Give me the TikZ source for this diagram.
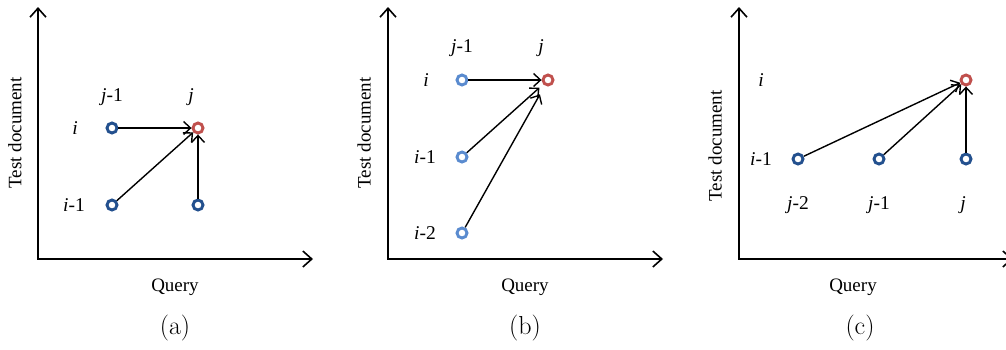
\documentclass[tikz,border=0pt]{standalone}
\usepackage{fontspec}
\newfontfamily\tnr{Liberation Serif}
\usetikzlibrary{arrows.meta}
\definecolor{dkblue}{HTML}{23508E}
\definecolor{ltblue}{HTML}{5A8BCF}
\definecolor{rdc}{HTML}{C0504D}
\begin{document}
\begin{tikzpicture}[x=1pt,y=-1pt,
  dot/.style={circle, draw=#1, line width=2.9pt, minimum size=10pt, inner sep=0pt, fill=white},
  axis/.style={line width=1.8pt, line join=miter, {Straight Barb[length=9pt,width=16pt,line width=1.6pt]}-{Straight Barb[length=9pt,width=16pt,line width=1.6pt]}},
  conn/.style={line width=1.4pt, -{Straight Barb[length=7pt,width=13pt,line width=1.4pt]}},
  lab/.style={font=\tnr\fontsize{19.5}{22}\selectfont, inner sep=0pt},
  axlab/.style={font=\tnr\fontsize{19}{22}\selectfont, inner sep=0pt},
  captext/.style={font=\fontsize{26}{30}\selectfont, inner sep=0pt}]
\useasboundingbox (0,0) rectangle (1006,349);
% ---------- (a)
\coordinate (ay) at (38,7);
\coordinate (ao) at (38,259);
\coordinate (ax) at (313,259);
\draw[axis] (ay) -- (ao) -- (ax);
\node[axlab] (aq) at (175,287) {Query};
\node[axlab, rotate=90] (at) at (15,133) {Test document};
\node[captext] (acap) at (175,328) {(a)};
\node[dot=dkblue] (a11) at (112,128) {};
\node[dot=rdc] (a12) at (198,128) {};
\node[dot=dkblue] (a21) at (112,205) {};
\node[dot=dkblue] (a22) at (198,205) {};
\node[lab] (alj1) at (112,97) {\textit{j}-1};
\node[lab] (alj) at (191,97) {\textit{j}};
\node[lab] (ali) at (75,128) {\textit{i}};
\node[lab] (ali1) at (74,205) {\textit{i}-1};
\draw[conn] (a11) -- (a12);
\draw[conn] (a21) -- (a12);
\draw[conn] (a22) -- (a12);
% ---------- (b)
\coordinate (by) at (388,7);
\coordinate (bo) at (388,259);
\coordinate (bx) at (663,259);
\draw[axis] (by) -- (bo) -- (bx);
\node[axlab] (bq) at (525,287) {Query};
\node[axlab, rotate=90] (bt) at (364,133) {Test document};
\node[captext] (bcap) at (525,328) {(b)};
\node[dot=ltblue] (b1) at (462,80) {};
\node[dot=rdc] (br) at (548,80) {};
\node[dot=ltblue] (b2) at (462,157) {};
\node[dot=ltblue] (b3) at (462,233) {};
\node[lab] (blj1) at (462,48) {\textit{j}-1};
\node[lab] (blj) at (541,48) {\textit{j}};
\node[lab] (bli) at (426,80) {\textit{i}};
\node[lab] (bli1) at (425,157) {\textit{i}-1};
\node[lab] (bli2) at (425,233) {\textit{i}-2};
\draw[conn] (b1) -- (br);
\draw[conn, shorten >=5pt] (b2) -- (br);
\draw[conn, shorten >=10pt] (b3) -- (br);
% ---------- (c)
\coordinate (cy) at (739,7);
\coordinate (co) at (739,259);
\coordinate (cx) at (1013,259);
\draw[axis] (cy) -- (co) -- (cx);
\node[axlab] (cq) at (853,287) {Query};
\node[axlab, rotate=90] (ct) at (715,146) {Test document};
\node[captext] (ccap) at (860,328) {(c)};
\node[dot=rdc] (cr) at (966,80) {};
\node[dot=dkblue] (c1) at (798,159) {};
\node[dot=dkblue] (c2) at (879,159) {};
\node[dot=dkblue] (c3) at (966,159) {};
\node[lab] (cli) at (761,80) {\textit{i}};
\node[lab] (cli1) at (761,159) {\textit{i}-1};
\node[lab] (clj2) at (798,205) {\textit{j}-2};
\node[lab] (clj1) at (879,205) {\textit{j}-1};
\node[lab] (clj) at (963,205) {\textit{j}};
\draw[conn] (c1) -- (cr);
\draw[conn] (c2) -- (cr);
\draw[conn] (c3) -- (cr);
\end{tikzpicture}
\end{document}
